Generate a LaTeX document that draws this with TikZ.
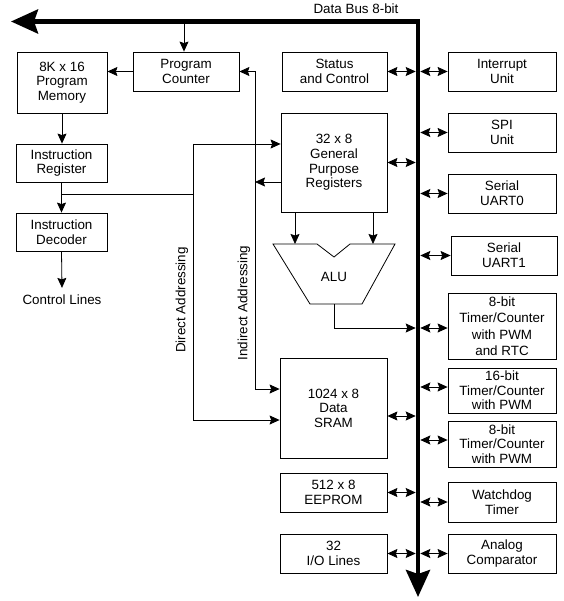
\documentclass[tikz,border=0pt]{standalone}
\usepackage{fontspec}
\setmainfont{Liberation Sans}
\usetikzlibrary{arrows.meta}
\begin{document}
\begin{tikzpicture}[x=1pt,y=-1pt,
  box/.style={draw, line width=0.8pt, align=center, inner sep=0pt, font=\fontsize{13.4}{14.6}\selectfont},
  ln/.style={line width=0.8pt},
  tip/.tip={Stealth[length=10pt,width=9pt,inset=1.5pt]},
  ar/.style={ln, -tip},
  dar/.style={ln, tip-tip},
  bus/.style={line width=4.5pt, line join=miter, {Stealth[length=27pt,width=24pt,inset=4pt]}-{Stealth[length=27pt,width=24pt,inset=4pt]}},
  lbl/.style={font=\fontsize{13.4}{14.6}\selectfont, inner sep=0pt}
]
\useasboundingbox (0,0) rectangle (563,601);

% data bus
\coordinate (busL) at (11,21.5);
\coordinate (busC) at (418,21.5);
\coordinate (busB) at (418,597);
\coordinate (busW) at (415.7,0);
\coordinate (busE) at (420.3,0);
\draw[bus] (busL) -- (busC) -- (busB);
\node[lbl] (dbl) at (356,9) {Data Bus 8-bit};

% boxes
\node[box, minimum width=90pt, minimum height=61pt] (pm) at (62,82.5) {8K x 16\\Program\\Memory};
\node[box, minimum width=106pt, minimum height=39pt] (pc) at (186,71.5) {Program\\Counter};
\node[box, minimum width=105pt, minimum height=39pt] (sc) at (334.5,71.5) {Status\\and Control};
\node[box, minimum width=108pt, minimum height=39pt] (intr) at (502,71.5) {Interrupt\\Unit};
\node[box, minimum width=106pt, minimum height=99pt] (gpr) at (334,162.5) {32 x 8\\General\\Purpose\\Registers};
\node[box, minimum width=108pt, minimum height=39pt] (spi) at (502,132.5) {SPI\\Unit};
\node[box, minimum width=108pt, minimum height=39pt] (u0) at (502,193.5) {Serial\\UART0};
\node[box, minimum width=106pt, minimum height=39pt] (u1) at (504,255.5) {Serial\\UART1};
\node[box, minimum width=91pt, minimum height=38pt] (ir) at (61.5,163) {Instruction\\Register};
\node[box, minimum width=91pt, minimum height=38pt] (id) at (61.5,232) {Instruction\\Decoder};
\node[lbl] (ctl) at (62,300) {Control Lines};
\node[box, minimum width=108pt, minimum height=66pt, font=\fontsize{13.4}{16.5}\selectfont] (t8r) at (502,326) {8-bit\\Timer/Counter\\with PWM\\and RTC};
\node[box, minimum width=108pt, minimum height=45pt] (t16) at (502,390.5) {16-bit\\Timer/Counter\\with PWM};
\node[box, minimum width=108pt, minimum height=46pt] (t8) at (502,444) {8-bit\\Timer/Counter\\with PWM};
\node[box, minimum width=108pt, minimum height=40pt] (wd) at (502,502) {Watchdog\\Timer};
\node[box, minimum width=108pt, minimum height=39pt] (ac) at (502,553.5) {Analog\\Comparator};
\node[box, minimum width=107pt, minimum height=100pt] (sram) at (333.5,408) {1024 x 8\\Data\\SRAM};
\node[box, minimum width=107pt, minimum height=39pt] (ee) at (333.5,492.5) {512 x 8\\EEPROM};
\node[box, minimum width=107pt, minimum height=39pt] (io) at (333.5,553.5) {32\\I/O Lines};

% ALU
\draw[ln] (273,244) -- (317,244) -- (334,257) -- (350,244) -- (395,244) -- (362,304) -- (310,304) -- cycle;
\node[lbl] (alu) at (334,277) {ALU};
\coordinate (a1) at (295,244);
\coordinate (a2) at (373,244);
\coordinate (ao) at (334,304);
\coordinate (aoc) at (334,328);

% program flow
\coordinate (pcin) at (184,21.5);
\draw[ar] (pcin) -- (pcin |- pc.north);
\draw[ar] (pc.west) -- (pc.west -| pm.east);
\draw[ar] (pm.south) -- (pm.south |- ir.north);
\draw[ar] (ir.south) -- (ir.south |- id.north);
\draw[ar] (id.south) -- ([yshift=7pt]ctl.north);

% direct addressing
\coordinate (dj) at (61.5,194);
\coordinate (dt) at (193,144);
\coordinate (db) at (193,420);
\draw[ln] (dj) -- (dj -| dt);
\draw[ln] (dt) -- (db);
\draw[ar] (dt) -- (dt -| gpr.west);
\draw[ar] (db) -- (db -| sram.west);
\node[lbl, rotate=90] (dal) at (182,300) {Direct Addressing};

% indirect addressing
\coordinate (it) at (255,71.5);
\coordinate (ib) at (255,389);
\coordinate (ig) at (255,182);
\draw[ln] (it) -- (ib);
\draw[ar] (it) -- (pc.east);
\draw[ar] (ib) -- (ib -| sram.west);
\draw[ar] (gpr.west |- ig) -- (ig);
\node[lbl, rotate=90] (ial) at (244,303) {Indirect Addressing};

% registers to ALU
\draw[ar] (gpr.south -| a1) -- (a1);
\draw[ar] (gpr.south -| a2) -- (a2);
\draw[ln] (ao) -- (aoc);
\draw[ar] (aoc) -- (aoc -| busW);

% bus connections, left
\draw[dar] (sc.east) -- (sc.east -| busW);
\draw[dar] (gpr.east) -- (gpr.east -| busW);
\draw[dar] ([yshift=-8pt]sram.east) -- ([yshift=-8pt]sram.east -| busW);
\draw[dar] (ee.east) -- (ee.east -| busW);
\draw[dar] (io.east) -- (io.east -| busW);

% bus connections, right
\draw[dar] (intr.west -| busE) -- (intr.west);
\draw[dar] (spi.west -| busE) -- (spi.west);
\draw[dar] (u0.west -| busE) -- (u0.west);
\draw[dar] (u1.west -| busE) -- (u1.west);
\draw[dar] ([yshift=-2pt]t8r.west -| busE) -- ([yshift=-2pt]t8r.west);
\draw[dar] ([yshift=3.5pt]t16.west -| busE) -- ([yshift=3.5pt]t16.west);
\draw[dar] ([yshift=4pt]t8.west -| busE) -- ([yshift=4pt]t8.west);
\draw[dar] (wd.west -| busE) -- (wd.west);
\draw[dar] (ac.west -| busE) -- (ac.west);
\end{tikzpicture}
\end{document}
